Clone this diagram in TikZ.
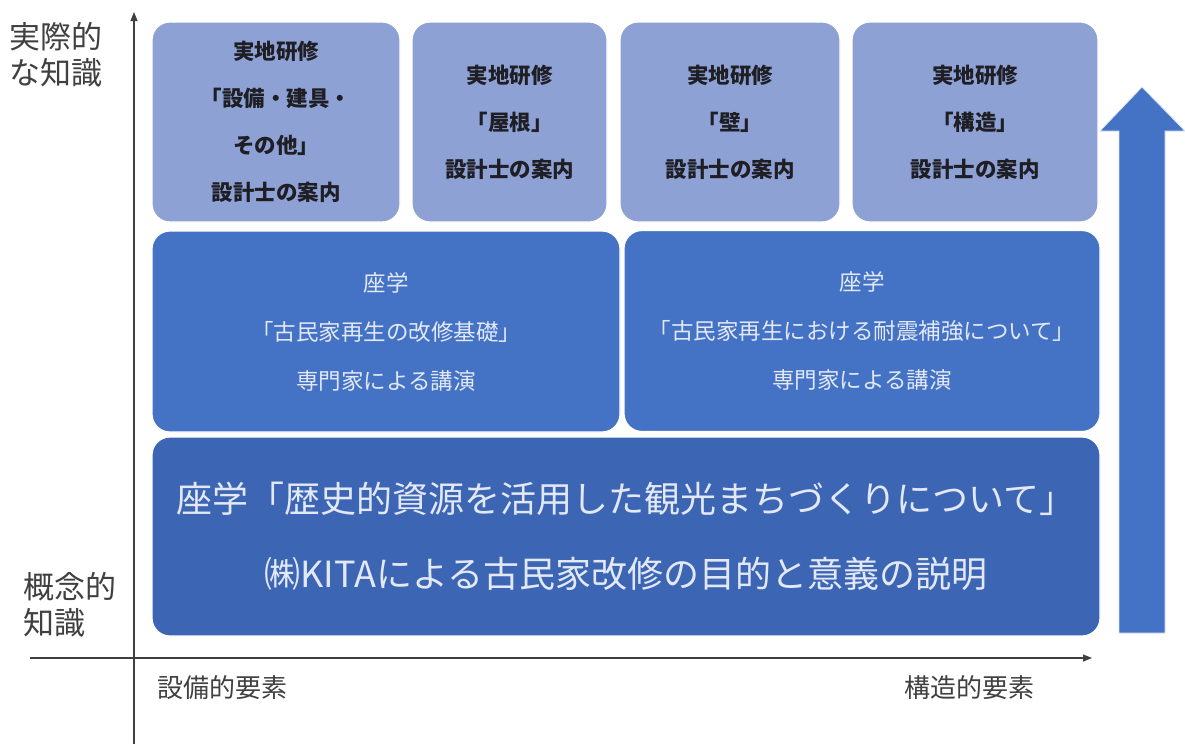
\documentclass[tikz,border=0pt]{standalone}
\usepackage{fontspec}
\setmainfont{Noto Sans CJK JP}
\usetikzlibrary{arrows.meta}
\definecolor{topfill}{RGB}{142,161,212}
\definecolor{midfill}{RGB}{68,114,196}
\definecolor{botfill}{RGB}{60,101,180}
\definecolor{arrowfill}{RGB}{68,114,196}
\definecolor{axisgray}{RGB}{64,64,64}
\definecolor{lighttext}{RGB}{226,232,246}
\definecolor{darktext}{RGB}{30,30,36}
\tikzset{
  topbox/.style={draw=white, line width=1.2pt, fill=topfill, rounded corners=18pt,
    align=center, text=darktext, inner sep=0pt,
    font=\fontsize{21.5}{47}\selectfont\bfseries, minimum height=200pt},
  midbox/.style={draw=white, line width=1.2pt, fill=midfill, rounded corners=18pt,
    align=center, text=lighttext, inner sep=0pt,
    font=\fontsize{22.5}{49}\selectfont, minimum height=201pt},
  botbox/.style={draw=white, line width=1.2pt, fill=botfill, rounded corners=18pt,
    align=center, text=lighttext, inner sep=0pt,
    font=\fontsize{36}{75}\selectfont, minimum height=199pt},
  axis/.style={draw=axisgray, line width=1.1pt, -{Triangle[length=9pt,width=7pt]}},
  lab/.style={text=axisgray, inner sep=0pt, align=left, font=\fontsize{31}{36}\selectfont},
  axlab/.style={text=axisgray, inner sep=0pt, font=\fontsize{26}{30}\selectfont},
}
\begin{document}
\begin{tikzpicture}[x=1pt,y=-1pt]
\useasboundingbox (0,0) rectangle (1185,744);
\fill[white] (0,0) rectangle (1185,744);

% axes
\coordinate (yb) at (134,744);
\coordinate (yt) at (134,12);
\coordinate (xl) at (30,658);
\coordinate (xr) at (1092,658);
\draw[axis] (yb) -- (yt);
\draw[axis] (xl) -- (xr);

% top row
\node[topbox, minimum width=248pt] (t1) at (276,122) {実地研修\\「設備・建具・\\その他」\\設計士の案内};
\node[topbox, minimum width=195pt] (t2) at (509.5,122) {実地研修\\「屋根」\\設計士の案内};
\node[topbox, minimum width=220pt] (t3) at (730,122) {実地研修\\「壁」\\設計士の案内};
\node[topbox, minimum width=246pt] (t4) at (975,122) {実地研修\\「構造」\\設計士の案内};

% middle row
\node[midbox, minimum width=468pt] (m1) at (386,331.5) {座学\\「古民家再生の改修基礎」\\専門家による講演};
\node[midbox, minimum width=476pt] (m2) at (862,331) {座学\\「古民家再生における耐震補強について」\\専門家による講演};

% bottom
\node[botbox, minimum width=948pt] (b) at (626,536.5) {座学「歴史的資源を活用した観光まちづくりについて」\\㈱KITAによる古民家改修の目的と意義の説明};

% big arrow
\fill[arrowfill, draw=white!80!arrowfill, line width=0.8pt]
  (1119,633) -- (1165,633) -- (1165,131) -- (1185,131) -- (1142,87)
  -- (1100,131) -- (1119,131) -- cycle;

% axis labels
\node[lab, anchor=west] (lt) at (9,55) {実際的\\な知識};
\node[lab, anchor=west] (lb) at (23,605) {概念的\\知識};
\node[axlab, anchor=west] (xa) at (157,688) {設備的要素};
\node[axlab, anchor=west] (xb) at (904,688) {構造的要素};
\end{tikzpicture}
\end{document}
